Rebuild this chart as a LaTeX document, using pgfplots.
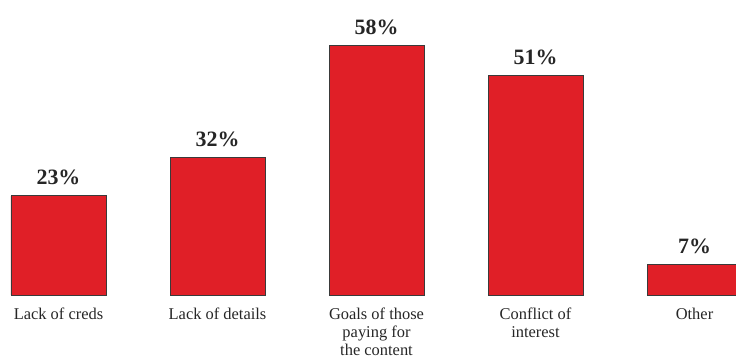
\documentclass[border=0pt]{standalone}
\usepackage{fontspec}
\setmainfont{Liberation Serif}
\usepackage{pgfplots}
\pgfplotsset{compat=1.18}
\definecolor{barred}{HTML}{E01F27}
\definecolor{edgegray}{HTML}{3A3A3A}
\begin{document}
\begin{tikzpicture}
\begin{axis}[
  scale only axis, width=736bp, height=360bp,
  xmin=-0.36792, xmax=4.26101,
  ymin=-15.081, ymax=68.445,
  axis line style={draw=none},
  major tick length=0pt,
  ybar, bar width=0.5975,
  xtick={0,1,2,3,4},
  xticklabels={Lack of creds, Lack of details, {Goals of those\\paying for\\the content}, {Conflict of\\interest}, Other},
  ytick=\empty,
  xticklabel style={align=center, anchor=north, yshift=52bp, inner sep=0pt, text=black!85, font=\fontsize{16.5}{17.8}\selectfont},
  /pgf/number format/assume math mode=true,
  nodes near coords={\pgfmathprintnumber{\pgfplotspointmeta}\%},
  nodes near coords style={font=\fontsize{22}{22}\selectfont\bfseries, anchor=base, yshift=11bp, text=black!85},
  clip=true,
]
\addplot[fill=barred, draw=edgegray, line width=0.9bp] coordinates {(0,23) (1,32) (2,58) (3,51) (4,7)};
\end{axis}
\pgfresetboundingbox
\path[use as bounding box] (current axis.south west) rectangle (current axis.north east);
\end{tikzpicture}
\end{document}
